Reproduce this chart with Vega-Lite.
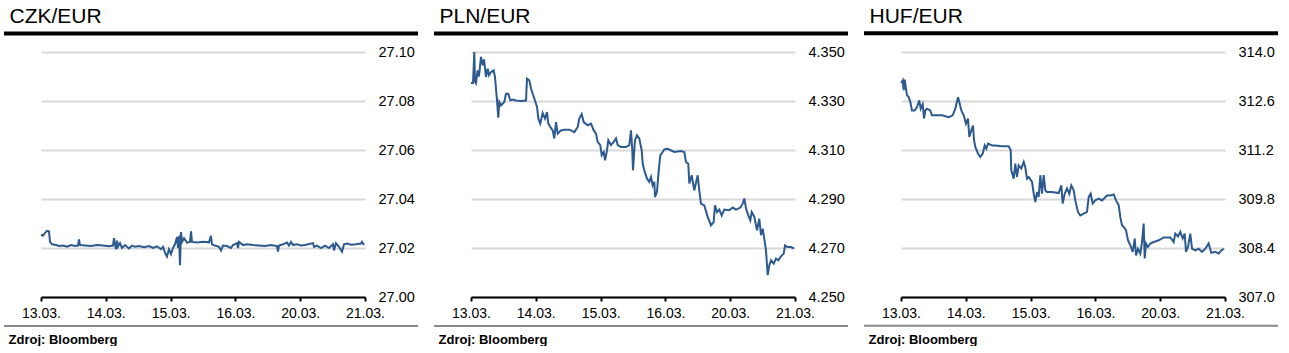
{
  "$schema": "https://vega.github.io/schema/vega-lite/v6.json",
  "background": "#ffffff",
  "padding": {"left": 1, "top": 5, "right": 0, "bottom": 0},
  "config": {
    "font": "Liberation Sans",
    "view": {"stroke": null},
    "axis": {"labelFont": "Liberation Sans", "titleFont": "Liberation Sans"}
  },
  "spacing": 106,
  "bounds": "flush",
  "datasets": {
    "czk": [
      {"t":0,"v":27.0255},{"t":0.031,"v":27.0250},{"t":0.062,"v":27.0262},{"t":0.093,"v":27.0270},{"t":0.123,"v":27.0268},{"t":0.139,"v":27.0225},{"t":0.170,"v":27.0215},{"t":0.231,"v":27.0212},{"t":0.278,"v":27.0208},{"t":0.340,"v":27.0210},{"t":0.401,"v":27.0205},{"t":0.463,"v":27.0212},{"t":0.525,"v":27.0208},{"t":0.571,"v":27.0210},{"t":0.586,"v":27.0235},{"t":0.602,"v":27.0212},{"t":0.679,"v":27.0210},{"t":0.772,"v":27.0208},{"t":0.864,"v":27.0212},{"t":0.957,"v":27.0210},{"t":1.049,"v":27.0207},{"t":1.111,"v":27.0210},{"t":1.127,"v":27.0240},{"t":1.142,"v":27.0215},{"t":1.157,"v":27.0195},{"t":1.173,"v":27.0230},{"t":1.188,"v":27.0205},{"t":1.219,"v":27.0220},{"t":1.250,"v":27.0200},{"t":1.296,"v":27.0212},{"t":1.358,"v":27.0198},{"t":1.404,"v":27.0210},{"t":1.451,"v":27.0205},{"t":1.512,"v":27.0208},{"t":1.590,"v":27.0203},{"t":1.667,"v":27.0208},{"t":1.728,"v":27.0200},{"t":1.790,"v":27.0207},{"t":1.852,"v":27.0195},{"t":1.883,"v":27.0205},{"t":1.914,"v":27.0180},{"t":1.944,"v":27.0165},{"t":1.975,"v":27.0195},{"t":2.006,"v":27.0175},{"t":2.037,"v":27.0200},{"t":2.068,"v":27.0215},{"t":2.099,"v":27.0245},{"t":2.114,"v":27.0200},{"t":2.130,"v":27.0250},{"t":2.145,"v":27.0130},{"t":2.160,"v":27.0265},{"t":2.176,"v":27.0225},{"t":2.207,"v":27.0240},{"t":2.253,"v":27.0222},{"t":2.299,"v":27.0225},{"t":2.315,"v":27.0268},{"t":2.330,"v":27.0225},{"t":2.407,"v":27.0222},{"t":2.500,"v":27.0225},{"t":2.593,"v":27.0223},{"t":2.623,"v":27.0250},{"t":2.639,"v":27.0215},{"t":2.685,"v":27.0210},{"t":2.747,"v":27.0205},{"t":2.778,"v":27.0190},{"t":2.809,"v":27.0210},{"t":2.870,"v":27.0208},{"t":2.932,"v":27.0200},{"t":2.963,"v":27.0212},{"t":3.025,"v":27.0220},{"t":3.040,"v":27.0200},{"t":3.056,"v":27.0225},{"t":3.117,"v":27.0212},{"t":3.179,"v":27.0215},{"t":3.272,"v":27.0212},{"t":3.364,"v":27.0210},{"t":3.457,"v":27.0208},{"t":3.549,"v":27.0212},{"t":3.642,"v":27.0208},{"t":3.657,"v":27.0185},{"t":3.673,"v":27.0210},{"t":3.735,"v":27.0215},{"t":3.796,"v":27.0222},{"t":3.827,"v":27.0210},{"t":3.858,"v":27.0225},{"t":3.889,"v":27.0212},{"t":3.951,"v":27.0215},{"t":4.012,"v":27.0210},{"t":4.074,"v":27.0212},{"t":4.197,"v":27.0220},{"t":4.213,"v":27.0205},{"t":4.259,"v":27.0210},{"t":4.321,"v":27.0200},{"t":4.383,"v":27.0210},{"t":4.444,"v":27.0200},{"t":4.506,"v":27.0215},{"t":4.522,"v":27.0190},{"t":4.552,"v":27.0220},{"t":4.599,"v":27.0205},{"t":4.645,"v":27.0185},{"t":4.676,"v":27.0215},{"t":4.722,"v":27.0218},{"t":4.784,"v":27.0213},{"t":4.861,"v":27.0215},{"t":4.938,"v":27.0218},{"t":4.954,"v":27.0225},{"t":4.985,"v":27.0212}
    ],
    "pln": [
      {"t":0,"v":4.3373},{"t":0.031,"v":4.3373},{"t":0.051,"v":4.3500},{"t":0.062,"v":4.3380},{"t":0.077,"v":4.3373},{"t":0.103,"v":4.3425},{"t":0.123,"v":4.3400},{"t":0.154,"v":4.3480},{"t":0.181,"v":4.3446},{"t":0.201,"v":4.3470},{"t":0.231,"v":4.3398},{"t":0.258,"v":4.3432},{"t":0.278,"v":4.3405},{"t":0.309,"v":4.3418},{"t":0.350,"v":4.3425},{"t":0.370,"v":4.3398},{"t":0.401,"v":4.3303},{"t":0.421,"v":4.3232},{"t":0.437,"v":4.3296},{"t":0.463,"v":4.3282},{"t":0.514,"v":4.3296},{"t":0.540,"v":4.3330},{"t":0.576,"v":4.3330},{"t":0.606,"v":4.3303},{"t":0.644,"v":4.3306},{"t":0.694,"v":4.3302},{"t":0.772,"v":4.3300},{"t":0.849,"v":4.3302},{"t":0.864,"v":4.3391},{"t":0.900,"v":4.3384},{"t":0.926,"v":4.3351},{"t":0.977,"v":4.3310},{"t":1.019,"v":4.3276},{"t":1.039,"v":4.3228},{"t":1.069,"v":4.3208},{"t":1.106,"v":4.3251},{"t":1.142,"v":4.3228},{"t":1.173,"v":4.3255},{"t":1.193,"v":4.3208},{"t":1.224,"v":4.3194},{"t":1.261,"v":4.3180},{"t":1.285,"v":4.3147},{"t":1.312,"v":4.3214},{"t":1.338,"v":4.3167},{"t":1.389,"v":4.3180},{"t":1.440,"v":4.3183},{"t":1.517,"v":4.3183},{"t":1.594,"v":4.3173},{"t":1.647,"v":4.3194},{"t":1.671,"v":4.3228},{"t":1.708,"v":4.3246},{"t":1.739,"v":4.3214},{"t":1.801,"v":4.3201},{"t":1.852,"v":4.3208},{"t":1.894,"v":4.3180},{"t":1.929,"v":4.3167},{"t":1.955,"v":4.3133},{"t":1.995,"v":4.3120},{"t":2.017,"v":4.3079},{"t":2.048,"v":4.3092},{"t":2.068,"v":4.3058},{"t":2.099,"v":4.3099},{"t":2.119,"v":4.3140},{"t":2.160,"v":4.3120},{"t":2.202,"v":4.3133},{"t":2.238,"v":4.3147},{"t":2.264,"v":4.3120},{"t":2.315,"v":4.3112},{"t":2.392,"v":4.3112},{"t":2.443,"v":4.3120},{"t":2.469,"v":4.3180},{"t":2.488,"v":4.3105},{"t":2.500,"v":4.3017},{"t":2.515,"v":4.3080},{"t":2.531,"v":4.3140},{"t":2.562,"v":4.3160},{"t":2.597,"v":4.3147},{"t":2.634,"v":4.3099},{"t":2.650,"v":4.3044},{"t":2.674,"v":4.3017},{"t":2.716,"v":4.2983},{"t":2.752,"v":4.2970},{"t":2.778,"v":4.2990},{"t":2.804,"v":4.2956},{"t":2.829,"v":4.2970},{"t":2.840,"v":4.2908},{"t":2.870,"v":4.2929},{"t":2.897,"v":4.3017},{"t":2.921,"v":4.3078},{"t":2.958,"v":4.3092},{"t":2.983,"v":4.3102},{"t":3.035,"v":4.3105},{"t":3.137,"v":4.3092},{"t":3.241,"v":4.3096},{"t":3.292,"v":4.3092},{"t":3.318,"v":4.3051},{"t":3.353,"v":4.3044},{"t":3.369,"v":4.2963},{"t":3.406,"v":4.2997},{"t":3.446,"v":4.2935},{"t":3.498,"v":4.2997},{"t":3.523,"v":4.2935},{"t":3.549,"v":4.2881},{"t":3.600,"v":4.2874},{"t":3.653,"v":4.2827},{"t":3.704,"v":4.2793},{"t":3.745,"v":4.2806},{"t":3.765,"v":4.2874},{"t":3.796,"v":4.2847},{"t":3.832,"v":4.2857},{"t":3.869,"v":4.2833},{"t":3.909,"v":4.2857},{"t":3.986,"v":4.2854},{"t":4.039,"v":4.2865},{"t":4.090,"v":4.2857},{"t":4.156,"v":4.2865},{"t":4.193,"v":4.2881},{"t":4.218,"v":4.2902},{"t":4.244,"v":4.2861},{"t":4.279,"v":4.2833},{"t":4.310,"v":4.2813},{"t":4.332,"v":4.2847},{"t":4.372,"v":4.2827},{"t":4.414,"v":4.2772},{"t":4.449,"v":4.2820},{"t":4.475,"v":4.2752},{"t":4.502,"v":4.2779},{"t":4.526,"v":4.2738},{"t":4.552,"v":4.2691},{"t":4.579,"v":4.2589},{"t":4.603,"v":4.2629},{"t":4.630,"v":4.2650},{"t":4.671,"v":4.2636},{"t":4.707,"v":4.2657},{"t":4.742,"v":4.2650},{"t":4.784,"v":4.2666},{"t":4.826,"v":4.2677},{"t":4.846,"v":4.2711},{"t":4.887,"v":4.2704},{"t":4.938,"v":4.2704},{"t":4.985,"v":4.2698}
    ],
    "huf": [
      {"t":0.005,"v":313.11},{"t":0.026,"v":313.19},{"t":0.042,"v":312.91},{"t":0.057,"v":313.21},{"t":0.077,"v":312.95},{"t":0.093,"v":312.76},{"t":0.119,"v":312.71},{"t":0.144,"v":312.57},{"t":0.170,"v":312.33},{"t":0.211,"v":312.33},{"t":0.247,"v":312.43},{"t":0.282,"v":312.62},{"t":0.304,"v":312.38},{"t":0.335,"v":312.51},{"t":0.355,"v":312.10},{"t":0.375,"v":312.33},{"t":0.401,"v":312.38},{"t":0.452,"v":312.33},{"t":0.478,"v":312.19},{"t":0.529,"v":312.19},{"t":0.633,"v":312.19},{"t":0.736,"v":312.14},{"t":0.798,"v":312.19},{"t":0.838,"v":312.38},{"t":0.880,"v":312.71},{"t":0.900,"v":312.57},{"t":0.931,"v":312.33},{"t":0.968,"v":312.19},{"t":1.003,"v":311.95},{"t":1.034,"v":312.10},{"t":1.054,"v":311.57},{"t":1.085,"v":311.76},{"t":1.111,"v":311.90},{"t":1.127,"v":311.48},{"t":1.147,"v":311.29},{"t":1.188,"v":311.10},{"t":1.224,"v":311.00},{"t":1.261,"v":311.10},{"t":1.292,"v":311.33},{"t":1.316,"v":311.24},{"t":1.343,"v":311.38},{"t":1.404,"v":311.33},{"t":1.455,"v":311.33},{"t":1.559,"v":311.31},{"t":1.662,"v":311.31},{"t":1.693,"v":311.19},{"t":1.702,"v":310.62},{"t":1.739,"v":310.38},{"t":1.764,"v":310.81},{"t":1.790,"v":310.43},{"t":1.816,"v":310.76},{"t":1.856,"v":310.67},{"t":1.894,"v":310.86},{"t":1.918,"v":310.71},{"t":1.944,"v":310.38},{"t":1.971,"v":310.43},{"t":2.022,"v":310.29},{"t":2.048,"v":309.95},{"t":2.073,"v":309.71},{"t":2.099,"v":310.00},{"t":2.125,"v":309.86},{"t":2.150,"v":310.48},{"t":2.176,"v":309.95},{"t":2.202,"v":310.48},{"t":2.227,"v":310.05},{"t":2.253,"v":310.00},{"t":2.330,"v":310.00},{"t":2.434,"v":309.97},{"t":2.474,"v":310.19},{"t":2.495,"v":309.67},{"t":2.526,"v":309.95},{"t":2.562,"v":310.10},{"t":2.597,"v":309.95},{"t":2.628,"v":310.19},{"t":2.665,"v":310.05},{"t":2.690,"v":309.76},{"t":2.731,"v":309.43},{"t":2.767,"v":309.33},{"t":2.819,"v":309.38},{"t":2.870,"v":309.43},{"t":2.897,"v":309.86},{"t":2.927,"v":309.95},{"t":2.958,"v":309.67},{"t":2.998,"v":309.76},{"t":3.051,"v":309.81},{"t":3.102,"v":309.76},{"t":3.179,"v":309.90},{"t":3.230,"v":309.90},{"t":3.282,"v":309.93},{"t":3.318,"v":309.76},{"t":3.360,"v":309.62},{"t":3.384,"v":309.29},{"t":3.410,"v":309.05},{"t":3.437,"v":309.00},{"t":3.472,"v":308.91},{"t":3.503,"v":308.62},{"t":3.539,"v":308.48},{"t":3.576,"v":308.29},{"t":3.607,"v":308.67},{"t":3.627,"v":308.19},{"t":3.657,"v":308.38},{"t":3.693,"v":308.24},{"t":3.719,"v":308.57},{"t":3.745,"v":309.10},{"t":3.761,"v":308.10},{"t":3.781,"v":308.53},{"t":3.812,"v":308.43},{"t":3.847,"v":308.53},{"t":3.900,"v":308.57},{"t":3.977,"v":308.62},{"t":4.054,"v":308.70},{"t":4.156,"v":308.70},{"t":4.208,"v":308.57},{"t":4.233,"v":308.81},{"t":4.275,"v":308.73},{"t":4.310,"v":308.86},{"t":4.347,"v":308.67},{"t":4.378,"v":308.81},{"t":4.398,"v":308.29},{"t":4.429,"v":308.43},{"t":4.464,"v":308.81},{"t":4.491,"v":308.38},{"t":4.542,"v":308.33},{"t":4.594,"v":308.38},{"t":4.645,"v":308.29},{"t":4.696,"v":308.38},{"t":4.748,"v":308.53},{"t":4.788,"v":308.26},{"t":4.850,"v":308.29},{"t":4.903,"v":308.24},{"t":4.943,"v":308.33},{"t":4.981,"v":308.38}
    ]
  },
  "hconcat": [
    {
      "width": 324, "height": 245,
      "layer": [
        {
          "data": {"name": "czk"},
          "mark": {"type": "line", "color": "#2c5a8f", "strokeWidth": 2},
          "encoding": {
            "x": {"field": "t", "type": "quantitative", "scale": {"domain": [0, 5], "nice": false, "zero": false},
              "axis": {"values": [0, 1, 2, 3, 4, 5], "labelExpr": "['13.03.','14.03.','15.03.','16.03.','20.03.','21.03.'][datum.value]", "grid": false, "domainColor": "#000000", "domainWidth": 2, "tickColor": "#000000", "tickWidth": 2, "tickSize": 4, "labelPadding": 5, "labelFontSize": 14, "labelColor": "#000000", "labelFlush": false, "labelOverlap": false,
                "title": "Zdroj: Bloomberg", "titleX": -33, "titleY": 46, "titleAlign": "left", "titleAnchor": "start", "titleBaseline": "alphabetic", "titleFontSize": 13, "titleFontWeight": "bold", "titleColor": "#000000"}},
            "y": {"field": "v", "type": "quantitative", "scale": {"domain": [27.0, 27.1], "nice": false, "zero": false},
              "axis": {"orient": "right", "values": [27.0, 27.02, 27.04, 27.06, 27.08, 27.1], "format": ".2f", "grid": true, "gridColor": "#d9d9d9", "gridWidth": 2, "domain": false, "ticks": false, "labelPadding": 13, "labelFontSize": 14.5, "labelColor": "#000000",
                "title": "CZK/EUR", "titleAngle": 0, "titleX": -356, "titleY": -30, "titleAlign": "left", "titleAnchor": "start", "titleBaseline": "alphabetic", "titleFontSize": 21, "titleFontWeight": "normal", "titleColor": "#000000"}}
          }
        },
        {
          "data": {"values": [{}]},
          "mark": {"type": "rule", "color": "#000000", "strokeWidth": 4},
          "encoding": {
            "x": {"datum": -0.571, "type": "quantitative"},
            "x2": {"datum": 5.818},
            "y": {"datum": 27.1076, "type": "quantitative"}
          }
        },
        {
          "data": {"values": [{}]},
          "mark": {"type": "rule", "color": "#888888", "strokeWidth": 2},
          "encoding": {
            "x": {"datum": -0.571, "type": "quantitative"},
            "x2": {"datum": 5.818},
            "y": {"datum": 26.9882, "type": "quantitative"}
          }
        }
      ]
    },
    {
      "width": 324, "height": 245,
      "layer": [
        {
          "data": {"name": "pln"},
          "mark": {"type": "line", "color": "#2c5a8f", "strokeWidth": 2},
          "encoding": {
            "x": {"field": "t", "type": "quantitative", "scale": {"domain": [0, 5], "nice": false, "zero": false},
              "axis": {"values": [0, 1, 2, 3, 4, 5], "labelExpr": "['13.03.','14.03.','15.03.','16.03.','20.03.','21.03.'][datum.value]", "grid": false, "domainColor": "#000000", "domainWidth": 2, "tickColor": "#000000", "tickWidth": 2, "tickSize": 4, "labelPadding": 5, "labelFontSize": 14, "labelColor": "#000000", "labelFlush": false, "labelOverlap": false,
                "title": "Zdroj: Bloomberg", "titleX": -33, "titleY": 46, "titleAlign": "left", "titleAnchor": "start", "titleBaseline": "alphabetic", "titleFontSize": 13, "titleFontWeight": "bold", "titleColor": "#000000"}},
            "y": {"field": "v", "type": "quantitative", "scale": {"domain": [4.25, 4.35], "nice": false, "zero": false},
              "axis": {"orient": "right", "values": [4.25, 4.27, 4.29, 4.31, 4.33, 4.35], "format": ".3f", "grid": true, "gridColor": "#d9d9d9", "gridWidth": 2, "domain": false, "ticks": false, "labelPadding": 13, "labelFontSize": 14.5, "labelColor": "#000000",
                "title": "PLN/EUR", "titleAngle": 0, "titleX": -356, "titleY": -30, "titleAlign": "left", "titleAnchor": "start", "titleBaseline": "alphabetic", "titleFontSize": 21, "titleFontWeight": "normal", "titleColor": "#000000"}}
          }
        },
        {
          "data": {"values": [{}]},
          "mark": {"type": "rule", "color": "#000000", "strokeWidth": 4},
          "encoding": {
            "x": {"datum": -0.571, "type": "quantitative"},
            "x2": {"datum": 5.818},
            "y": {"datum": 4.3576, "type": "quantitative"}
          }
        },
        {
          "data": {"values": [{}]},
          "mark": {"type": "rule", "color": "#888888", "strokeWidth": 2},
          "encoding": {
            "x": {"datum": -0.571, "type": "quantitative"},
            "x2": {"datum": 5.818},
            "y": {"datum": 4.2382, "type": "quantitative"}
          }
        }
      ]
    },
    {
      "width": 324, "height": 245,
      "layer": [
        {
          "data": {"name": "huf"},
          "mark": {"type": "line", "color": "#2c5a8f", "strokeWidth": 2},
          "encoding": {
            "x": {"field": "t", "type": "quantitative", "scale": {"domain": [0, 5], "nice": false, "zero": false},
              "axis": {"values": [0, 1, 2, 3, 4, 5], "labelExpr": "['13.03.','14.03.','15.03.','16.03.','20.03.','21.03.'][datum.value]", "grid": false, "domainColor": "#000000", "domainWidth": 2, "tickColor": "#000000", "tickWidth": 2, "tickSize": 4, "labelPadding": 5, "labelFontSize": 14, "labelColor": "#000000", "labelFlush": false, "labelOverlap": false,
                "title": "Zdroj: Bloomberg", "titleX": -33, "titleY": 46, "titleAlign": "left", "titleAnchor": "start", "titleBaseline": "alphabetic", "titleFontSize": 13, "titleFontWeight": "bold", "titleColor": "#000000"}},
            "y": {"field": "v", "type": "quantitative", "scale": {"domain": [307, 314], "nice": false, "zero": false},
              "axis": {"orient": "right", "values": [307, 308.4, 309.8, 311.2, 312.6, 314], "format": ".1f", "grid": true, "gridColor": "#d9d9d9", "gridWidth": 2, "domain": false, "ticks": false, "labelPadding": 13, "labelFontSize": 14.5, "labelColor": "#000000",
                "title": "HUF/EUR", "titleAngle": 0, "titleX": -356, "titleY": -30, "titleAlign": "left", "titleAnchor": "start", "titleBaseline": "alphabetic", "titleFontSize": 21, "titleFontWeight": "normal", "titleColor": "#000000"}}
          }
        },
        {
          "data": {"values": [{}]},
          "mark": {"type": "rule", "color": "#000000", "strokeWidth": 4},
          "encoding": {
            "x": {"datum": -0.571, "type": "quantitative"},
            "x2": {"datum": 5.818},
            "y": {"datum": 314.534, "type": "quantitative"}
          }
        },
        {
          "data": {"values": [{}]},
          "mark": {"type": "rule", "color": "#888888", "strokeWidth": 2},
          "encoding": {
            "x": {"datum": -0.571, "type": "quantitative"},
            "x2": {"datum": 5.818},
            "y": {"datum": 306.177, "type": "quantitative"}
          }
        }
      ]
    }
  ]
}
